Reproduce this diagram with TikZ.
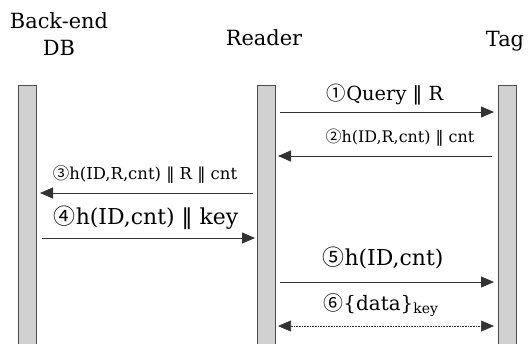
\documentclass[tikz,border=0pt]{standalone}
\usepackage{fontspec}
\setmainfont{DejaVu Serif}
\newfontfamily\sym{DejaVu Sans}
\newfontfamily\cjk{Noto Sans CJK KR}
\usetikzlibrary{arrows.meta}
\newcommand{\cn}[1]{{\cjk #1}}
\newcommand{\dbar}{{\sym ‖}}
\begin{document}
\begin{tikzpicture}[x=1bp,y=-1bp,
  lifeline/.style={draw=black!70, fill=black!18, line width=0.8bp},
  msg/.style={draw=black!80, line width=0.9bp, -{Triangle[length=13bp,width=11bp]}},
  dmsg/.style={draw=black!80, line width=0.6bp, densely dotted, {Triangle[length=13bp,width=11bp]}-{Triangle[length=13bp,width=11bp]}},
  ttl/.style={font=\fontsize{21}{27}\selectfont, inner sep=0pt, align=center, anchor=base},
  lbl/.style={inner sep=0pt, anchor=base}]
\useasboundingbox (0,0) rectangle (532,343);
% lifelines
\path[lifeline] (18,85) rectangle (36,346);
\path[lifeline] (257,85) rectangle (275,346);
\path[lifeline] (498,85) rectangle (516,346);
% titles
\node[ttl] (tdb) at (59,28) {Back-end};
\node[ttl] (tdb2) at (59,55) {DB};
\node[ttl] (trd) at (264,45) {Reader};
\node[ttl] (ttg) at (505,46) {Tag};
% anchors
\coordinate (r1a) at (280,112); \coordinate (t1a) at (494,112);
\coordinate (t2a) at (492,156); \coordinate (r2a) at (278,156);
\coordinate (r3a) at (253,193); \coordinate (d3a) at (40,193);
\coordinate (d4a) at (42,238); \coordinate (r4a) at (255,238);
\coordinate (r5a) at (280,282); \coordinate (t5a) at (494,282);
\coordinate (r6a) at (278,326); \coordinate (t6a) at (494,326);
\draw[msg] (r1a) -- (t1a);
\draw[msg] (t2a) -- (r2a);
\draw[msg] (r3a) -- (d3a);
\draw[msg] (d4a) -- (r4a);
\draw[msg] (r5a) -- (t5a);
\draw[dmsg] (r6a) -- (t6a);
% labels
\node[lbl, font=\fontsize{19.5}{21}\selectfont] (l1) at (385,100) {\cn{①}Query \dbar{} R};
\node[lbl, font=\fontsize{16}{18}\selectfont] (l2) at (400,142) {\cn{②}h(ID,R,cnt) \dbar{} cnt};
\node[lbl, font=\fontsize{16.5}{18}\selectfont] (l3) at (145,179) {\cn{③}h(ID,R,cnt) \dbar{} R \dbar{} cnt};
\node[lbl, font=\fontsize{22}{24}\selectfont] (l4) at (146,224) {\cn{④}h(ID,cnt) \dbar{} key};
\node[lbl, font=\fontsize{22}{24}\selectfont] (l5) at (383,265) {\cn{⑤}h(ID,cnt)};
\node[lbl, font=\fontsize{20}{22}\selectfont] (l6) at (381,310) {\cn{⑥}\{data\}\textsubscript{key}};
\end{tikzpicture}
\end{document}
